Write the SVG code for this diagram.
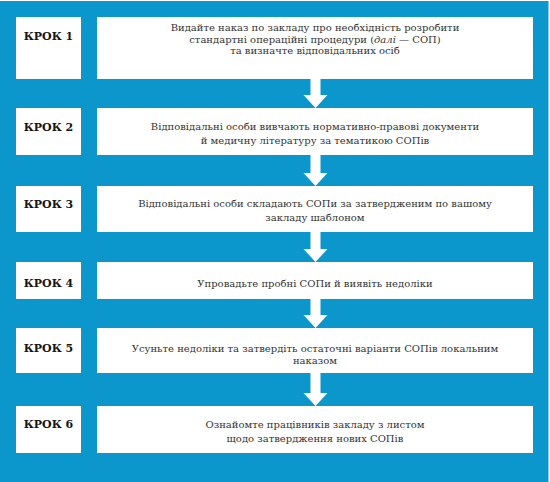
<svg xmlns="http://www.w3.org/2000/svg" width="550" height="482" viewBox="0 0 550 482">
<style>
.bg{fill:#0b97cb}
.box{fill:#ffffff}
.lbl{font-family:'DejaVu Serif',serif;font-weight:bold;font-size:11px;fill:#151515;text-anchor:middle}
.txt{font-family:'DejaVu Serif',serif;font-size:10px;fill:#333333;text-anchor:middle}
.arr{fill:#ffffff}
</style>
<rect x="0" y="0" width="550" height="482" fill="#ffffff"/>
<rect class="bg" x="0" y="1" width="548.5" height="481"/>

<g id="step1">
<rect class="box" x="16" y="17" width="65" height="62"/>
<rect class="box" x="97" y="17" width="436" height="62"/>
<text class="lbl" x="48.5" y="40">КРОК 1</text>
<text class="txt" x="315" y="31">Видайте наказ по закладу про необхідність розробити</text>
<text class="txt" x="315" y="42.5">стандартні операційні процедури (<tspan font-style="italic">далі</tspan> — СОП)</text>
<text class="txt" x="315" y="54">та визначте відповідальних осіб</text>
</g>

<g id="step2">
<rect class="box" x="16" y="108" width="65" height="47"/>
<rect class="box" x="97" y="108" width="436" height="47"/>
<text class="lbl" x="48.5" y="130.5">КРОК 2</text>
<text class="txt" x="315" y="129.5">Відповідальні особи вивчають нормативно-правові документи</text>
<text class="txt" x="315" y="144">й медичну літературу за тематикою СОПів</text>
</g>

<g id="step3">
<rect class="box" x="16" y="186" width="65" height="46"/>
<rect class="box" x="97" y="186" width="436" height="46"/>
<text class="lbl" x="48.5" y="208">КРОК 3</text>
<text class="txt" x="315" y="206.5">Відповідальні особи складають СОПи за затвердженим по вашому</text>
<text class="txt" x="315" y="220.5">закладу шаблоном</text>
</g>

<g id="step4">
<rect class="box" x="16" y="262" width="65" height="37"/>
<rect class="box" x="97" y="262" width="436" height="37"/>
<text class="lbl" x="48.5" y="287">КРОК 4</text>
<text class="txt" x="315" y="286.5">Упровадьте пробні СОПи й виявіть недоліки</text>
</g>

<g id="step5">
<rect class="box" x="16" y="328" width="65" height="45"/>
<rect class="box" x="97" y="328" width="436" height="45"/>
<text class="lbl" x="48.5" y="352">КРОК 5</text>
<text class="txt" x="315" y="351.5">Усуньте недоліки та затвердіть остаточні варіанти СОПів локальним</text>
<text class="txt" x="315" y="364">наказом</text>
</g>

<g id="step6">
<rect class="box" x="16" y="406" width="65" height="47"/>
<rect class="box" x="97" y="406" width="436" height="47"/>
<text class="lbl" x="48.5" y="428">КРОК 6</text>
<text class="txt" x="315" y="427.5">Ознайомте працівників закладу з листом</text>
<text class="txt" x="315" y="441.5">щодо затвердження нових СОПів</text>
</g>

<g id="connectors">
<polygon class="arr" points="310.5,79 320.5,79 320.5,95 327.5,95 315.5,108 303.5,95 310.5,95"/>
<polygon class="arr" points="310.5,155 320.5,155 320.5,173 327.5,173 315.5,186 303.5,173 310.5,173"/>
<polygon class="arr" points="310.5,232 320.5,232 320.5,249 327.5,249 315.5,262 303.5,249 310.5,249"/>
<polygon class="arr" points="310.5,299 320.5,299 320.5,315 327.5,315 315.5,328 303.5,315 310.5,315"/>
<polygon class="arr" points="310.5,373 320.5,373 320.5,393 327.5,393 315.5,406 303.5,393 310.5,393"/>
</g>
</svg>
